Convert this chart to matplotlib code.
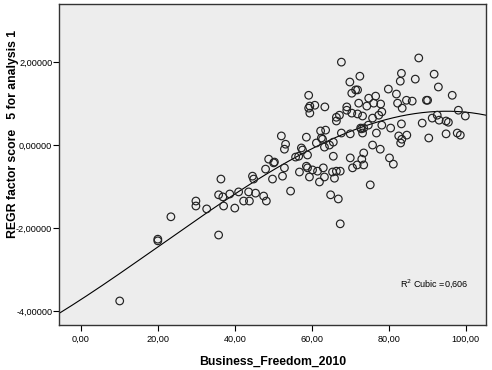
import matplotlib
matplotlib.use("Agg")
import matplotlib.pyplot as plt
from matplotlib.ticker import FuncFormatter
import numpy as np

plt.rcParams['font.family'] = ['Liberation Sans', 'DejaVu Sans']

# Business_Freedom_2010 (x) / REGR factor score 5 (y)
business_freedom = [
    10.1, 20.0, 20.0, 23.4, 29.9, 29.9, 32.7, 35.8, 36.4, 35.8,
    36.9, 37.1, 38.7, 41.0, 40.0, 42.3, 43.8, 43.6, 45.4, 47.5,
    48.2, 44.6, 44.9, 48.0, 48.8, 50.1, 49.8, 52.4, 52.9, 52.1,
    53.2, 52.9, 50.3, 54.5, 56.8, 59.4, 58.6, 58.9, 60.2, 61.5,
    63.0, 62.0, 63.3, 65.4, 66.4, 67.4, 65.9, 64.9, 66.9, 67.4,
    75.2, 55.8, 56.6, 57.3, 57.6, 58.9, 58.6, 62.3, 63.6, 62.5,
    62.8, 61.2, 63.3, 64.6, 65.6, 65.6, 66.4, 67.7, 70.0, 72.9,
    73.2, 74.7, 76.8, 75.8, 77.8, 80.2, 81.2, 70.0, 73.5, 73.0,
    73.5, 71.8, 70.6, 72.7, 73.5, 66.4, 67.2, 69.1, 69.1, 70.4,
    71.9, 73.2, 75.8, 77.4, 78.2, 76.1, 74.3, 72.2, 74.8, 76.6,
    70.4, 71.4, 71.9, 69.9, 72.5, 67.7, 59.2, 59.5, 60.8, 59.2,
    59.5, 63.4, 79.9, 77.9, 78.2, 82.0, 84.6, 86.1, 82.3, 83.5,
    89.8, 90.1, 83.3, 83.0, 86.9, 87.8, 91.8, 92.9, 96.5, 98.1,
    99.9, 91.3, 92.6, 93.1, 94.9, 95.5, 88.7, 83.3, 80.5, 82.6,
    84.7, 83.4, 83.1, 90.4, 94.9, 97.8, 98.6,
]
factor_score = [
    -3.76, -2.27, -2.31, -1.73, -1.35, -1.47, -1.54, -2.17, -0.82, -1.20,
    -1.25, -1.47, -1.18, -1.13, -1.52, -1.35, -1.35, -1.13, -1.16, -1.23,
    -1.35, -0.75, -0.82, -0.58, -0.34, -0.43, -0.82, -0.75, -0.55, 0.22,
    0.02, -0.10, -0.41, -1.11, -0.65, -0.77, -0.51, -0.55, -0.60, -0.63,
    -0.55, -0.89, -0.77, -0.65, -0.63, -0.63, -0.80, -1.20, -1.30, -1.90,
    -0.96, -0.29, -0.27, -0.07, -0.12, -0.24, 0.19, 0.34, 0.36, 0.17,
    0.14, 0.05, -0.05, 0.00, 0.07, -0.27, 0.58, 0.29, 0.27, 0.39,
    0.29, 0.48, 0.29, 0.00, -0.10, -0.31, -0.46, -0.31, -0.19, -0.34,
    -0.48, -0.48, -0.55, 0.41, 0.41, 0.67, 0.72, 0.92, 0.84, 0.77,
    0.75, 0.70, 0.65, 0.72, 0.48, 1.01, 0.94, 1.01, 1.13, 1.18,
    1.25, 1.33, 1.33, 1.52, 1.66, 2.00, 1.20, 0.94, 0.96, 0.89,
    0.77, 0.92, 1.35, 0.99, 0.80, 1.23, 1.08, 1.06, 1.01, 0.89,
    1.08, 1.08, 1.73, 1.54, 1.59, 2.10, 1.71, 1.40, 1.20, 0.84,
    0.70, 0.65, 0.72, 0.60, 0.58, 0.55, 0.53, 0.51, 0.41, 0.22,
    0.24, 0.14, 0.05, 0.17, 0.27, 0.29, 0.24,
]
r2_cubic = 0.606

x = np.array(business_freedom)
y = np.array(factor_score)
coef = np.polyfit(x, y, 3)

fig = plt.figure(figsize=(4.92, 3.70), dpi=100)
ax = fig.add_axes([0.1205, 0.1216, 0.8675, 0.8674])
ax.set_facecolor('#ededed')

ax.scatter(x, y, s=30, facecolors='none', edgecolors='#222222', linewidths=0.85, zorder=3)

xs = np.linspace(-5.6, 105.3, 300)
ax.plot(xs, np.polyval(coef, xs), color='black', linewidth=0.8, zorder=2)

ax.set_xlim(-5.6, 105.3)
ax.set_ylim(-4.34, 3.40)
ax.set_xticks([0, 20, 40, 60, 80, 100])
ax.set_yticks([-4, -2, 0, 2])
ax.xaxis.set_major_formatter(FuncFormatter(lambda v, p: f"{v:.2f}".replace('.', ',')))
ax.yaxis.set_major_formatter(FuncFormatter(lambda v, p: f"{v:.5f}".replace('.', ',')))
ax.tick_params(direction='out', length=4, width=0.8, labelsize=6.6, colors='black')
ax.tick_params(axis='x', pad=3)
ax.tick_params(axis='y', pad=1)

for s in ax.spines.values():
    s.set_linewidth(1.0)
    s.set_color('#333333')

ax.set_xlabel('Business_Freedom_2010', fontsize=8.8, fontweight='bold')
ax.xaxis.set_label_coords(0.5, -0.097)
ax.set_ylabel('REGR factor score   5 for analysis 1', fontsize=8.8, fontweight='bold')
ax.yaxis.set_label_coords(-0.094, 0.595)

ax.text(82.9, -3.35, f"R$^2$ Cubic ={r2_cubic:.3f}".replace('.', ','), fontsize=6.5, va='center')

fig.savefig('out.png', dpi=100)
